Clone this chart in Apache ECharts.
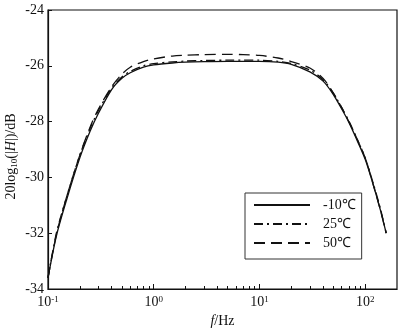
<!DOCTYPE html>
<html>
<head>
<meta charset="utf-8">
<script src="https://cdn.jsdelivr.net/npm/echarts@6/dist/echarts.min.js"></script>
<style>
  html, body { margin: 0; padding: 0; background: #fff; }
  #chart { width: 402px; height: 333px; }
</style>
</head>
<body>
<div id="chart"></div>
<script>
// frequency points (Hz)
let freqs = [0.1, 0.12, 0.15, 0.2, 0.25, 0.3, 0.4, 0.5, 0.6, 0.8, 1, 1.5, 2, 3, 5, 7, 10, 15, 20, 30, 40, 50, 60, 70, 80, 100, 120, 140, 158]

// gain in dB for each temperature
let gainM10 = [-33.6, -32.1, -30.8, -29.3, -28.35, -27.7, -26.85, -26.45, -26.25, -26.05, -25.97, -25.9, -25.87, -25.85, -25.84, -25.84, -25.84, -25.87, -25.95, -26.22, -26.55, -27.03, -27.55, -28.02, -28.5, -29.35, -30.3, -31.2, -32.0]
let gain25 = [-33.6, -32.0, -30.7, -29.2, -28.25, -27.6, -26.8, -26.4, -26.2, -26.0, -25.92, -25.86, -25.83, -25.81, -25.8, -25.8, -25.8, -25.84, -25.92, -26.15, -26.5, -26.98, -27.5, -27.97, -28.45, -29.3, -30.25, -31.15, -32.0]
let gain50 = [-33.6, -32.05, -30.7, -29.2, -28.2, -27.55, -26.75, -26.3, -26.05, -25.85, -25.75, -25.65, -25.62, -25.6, -25.59, -25.6, -25.63, -25.72, -25.85, -26.08, -26.45, -26.98, -27.5, -28.0, -28.45, -29.3, -30.3, -31.2, -32.0]

let seriesNames = ['-10℃', '25℃', '50℃']
let majorTicks = [0.1, 1, 10, 100]
let minorTicks = [0.2, 0.3, 0.4, 0.5, 0.6, 0.7, 0.8, 0.9, 2, 3, 4, 5, 6, 7, 8, 9, 20, 30, 40, 50, 60, 70, 80, 90]

let font = 'Liberation Serif'
let ink = '#111'

function pairs (ys) {
  return freqs.map((f, i) => [f, ys[i]])
}

function line (name, ys, type) {
  return {
    name: name,
    type: 'line',
    data: pairs(ys),
    symbol: 'none',
    smooth: 0.3,
    lineStyle: { color: ink, width: 1.3, type: type },
    itemStyle: { color: ink }
  }
}

let option = {
  animation: false,
  backgroundColor: '#fff',
  textStyle: { fontFamily: font, color: ink },
  grid: {
    left: 48, top: 10, right: 5, bottom: 44,
    containLabel: false,
    outerBoundsMode: 'none',
    show: true, borderColor: ink, borderWidth: 1.2
  },
  legend: {
    orient: 'vertical',
    left: 245, top: 193,
    padding: [5, 6, 9, 8],
    borderColor: '#333', borderWidth: 1,
    itemWidth: 56, itemHeight: 14, itemGap: 5,
    itemStyle: { color: 'transparent', borderColor: 'transparent', borderWidth: 0 },
    textStyle: { fontFamily: font, fontSize: 14, color: ink, padding: [0, 0, 0, 8] },
    data: seriesNames
  },
  xAxis: [{
    type: 'log',
    min: 0.1, max: 200,
    name: '{i|f}/Hz',
    nameLocation: 'middle',
    nameGap: 25,
    nameMoveOverlap: false,
    nameTextStyle: {
      fontFamily: font, fontSize: 14, color: ink,
      rich: { i: { fontFamily: font, fontStyle: 'italic', fontSize: 14, color: ink } }
    },
    axisLine: { lineStyle: { color: ink, width: 1.2 } },
    axisTick: { inside: true, length: 5, customValues: majorTicks, lineStyle: { color: ink } },
    axisLabel: {
      customValues: majorTicks,
      margin: 6,
      formatter: v => '{b|10}{s|' + Math.round(Math.log10(v)) + '}',
      rich: {
        b: { fontFamily: font, fontSize: 14, color: ink },
        s: { fontFamily: font, fontSize: 9, color: ink, verticalAlign: 'top', padding: [0, 0, 6, 0] }
      }
    },
    splitLine: { show: false }
  }, {
    type: 'log',
    min: 0.1, max: 200,
    position: 'bottom',
    axisLine: { show: false },
    axisTick: { inside: true, length: 3, customValues: minorTicks, lineStyle: { color: ink } },
    axisLabel: { show: false },
    splitLine: { show: false }
  }],
  yAxis: {
    type: 'value',
    min: -34, max: -24, interval: 2,
    name: '20log{sub|10}(|{i|H}|)/dB',
    nameLocation: 'middle',
    nameGap: 29,
    nameMoveOverlap: false,
    nameTextStyle: {
      fontFamily: font, fontSize: 14, color: ink,
      padding: [0, 14, 0, 0],
      rich: {
        sub: { fontFamily: font, fontSize: 9, color: ink, padding: [6, 0, 0, 0] },
        i: { fontFamily: font, fontStyle: 'italic', fontSize: 14, color: ink }
      }
    },
    axisLine: { show: true, lineStyle: { color: ink, width: 1.2 } },
    axisTick: { show: true, inside: true, length: 4, lineStyle: { color: ink } },
    axisLabel: { fontFamily: font, fontSize: 14, color: ink, margin: 4 },
    splitLine: { show: false }
  },
  series: [
    line(seriesNames[0], gainM10, 'solid'),
    line(seriesNames[1], gain25, [9, 4, 2, 4]),
    line(seriesNames[2], gain50, [11, 6])
  ]
}

let chart = echarts.init(document.getElementById('chart'))
chart.setOption(option)
</script>
</body>
</html>
